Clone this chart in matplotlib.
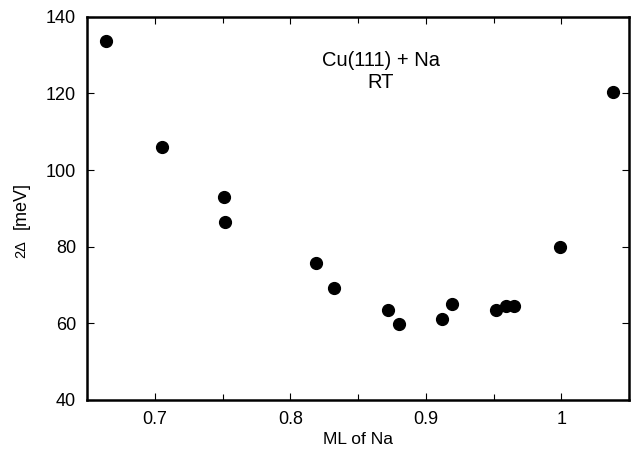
import matplotlib.pyplot as plt
from matplotlib.ticker import MultipleLocator

# coverage (ML of Na) and gap 2Delta (meV)
coverage = [0.664, 0.705, 0.751, 0.752, 0.819, 0.832, 0.872, 0.880,
            0.912, 0.919, 0.952, 0.959, 0.965, 0.999, 1.038]
gap = [133.8, 106.1, 92.9, 86.4, 75.7, 69.2, 63.4, 59.8,
       61.2, 65.1, 63.5, 64.4, 64.4, 79.9, 120.4]

plt.rcParams['font.family'] = ['Liberation Sans', 'DejaVu Sans']

fig = plt.figure(figsize=(6.36, 4.54), dpi=100)
ax = fig.add_axes([0.137, 0.119, 0.852, 0.844])
ax.plot(coverage, gap, 'o', color='black', markersize=8.5)

ax.set_xlim(0.65, 1.05)
ax.set_ylim(40, 140)
ax.xaxis.set_minor_locator(MultipleLocator(0.05))
ax.yaxis.set_major_locator(MultipleLocator(20))
ax.set_xticks([0.7, 0.8, 0.9, 1.0])
ax.set_xticklabels(['0.7', '0.8', '0.9', '1'])
ax.tick_params(which='both', direction='in', top=True, right=True,
               labelsize=13, length=5, width=0.8, pad=8)
ax.tick_params(which='minor', length=4)
for s in ax.spines.values():
    s.set_linewidth(1.8)

ax.set_xlabel('ML of Na', fontsize=12.5, labelpad=3)
# y label: small "2Δ" followed by larger "[meV]"
fig.text(0.033, 0.452, '2\u0394', rotation=90, fontsize=10.5,
         ha='center', va='center')
fig.text(0.033, 0.548, '[meV]', rotation=90, fontsize=13,
         ha='center', va='center')
ax.text(0.542, 0.857, 'Cu(111) + Na\nRT', transform=ax.transAxes,
        ha='center', va='center', fontsize=14.5, linespacing=1.2)

fig.savefig('out.png', dpi=100)
